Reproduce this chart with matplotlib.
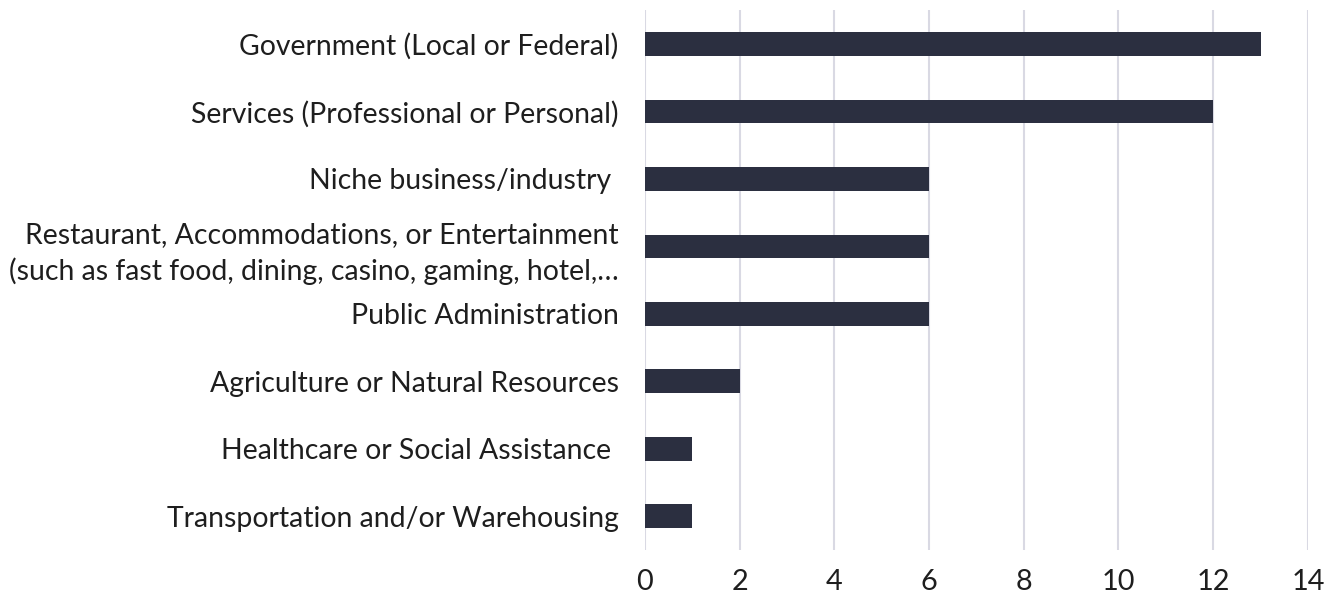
import matplotlib
matplotlib.use("Agg")
import matplotlib.pyplot as plt
import numpy as np

plt.rcParams['font.family'] = ['Lato', 'DejaVu Sans']

# Data
categories = [
    "Government (Local or Federal)",
    "Services (Professional or Personal)",
    "Niche business/industry ",
    "Restaurant, Accommodations, or Entertainment\n(such as fast food, dining, casino, gaming, hotel,…",
    "Public Administration",
    "Agriculture or Natural Resources",
    "Healthcare or Social Assistance ",
    "Transportation and/or Warehousing",
]
counts = [13, 12, 6, 6, 6, 2, 1, 1]
x_ticks = [0, 2, 4, 6, 8, 10, 12, 14]

bar_color = '#2b2f40'
grid_color = '#d9d9e3'

fig = plt.figure(figsize=(13.38, 6.01), dpi=100)
ax = fig.add_axes([0.482, 0.085, 0.4955, 0.898])

y = np.arange(len(categories))[::-1]
ax.barh(y, counts, height=0.35, color=bar_color, zorder=3)

ax.set_xlim(0, 14)
ax.set_ylim(-0.5, len(categories) - 0.5)
ax.set_xticks(x_ticks)
ax.set_xticklabels([str(t) for t in x_ticks], fontsize=20.8, color='#1e1e1e')
ax.set_yticks(y)
ax.set_yticklabels(categories, fontsize=20.4, color='#1e1e1e', linespacing=1.4)

ax.tick_params(axis='both', length=0)
ax.tick_params(axis='x', pad=14)
ax.tick_params(axis='y', pad=19)

ax.grid(axis='x', color=grid_color, linewidth=1.5, zorder=0)
for s in ax.spines.values():
    s.set_visible(False)

fig.savefig('out.png', dpi=100, facecolor='white')
